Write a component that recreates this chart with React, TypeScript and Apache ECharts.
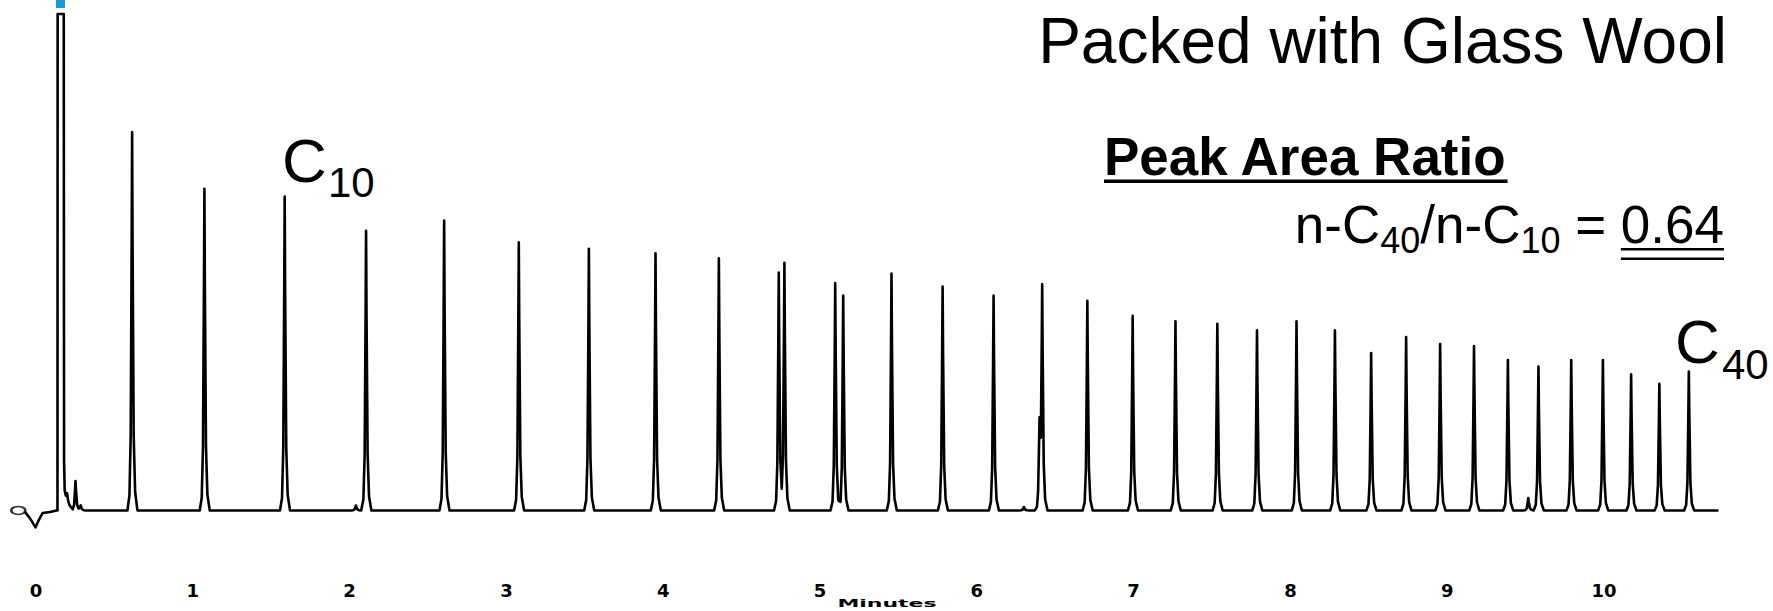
import React, { useEffect, useRef } from "react";
import * as echarts from "echarts";

// x-axis tick labels (minutes)
const tickLabels = ["0", "1", "2", "3", "4", "5", "6", "7", "8", "9", "10"];

// main n-alkane peaks: retention time (min) and height (% of full scale)
const peakTimes = [
  0.613, 1.074, 1.586, 2.105, 2.603, 3.079, 3.526, 3.951, 4.355, 4.737, 4.773,
  5.097, 5.148, 5.456, 5.782, 6.107, 6.4, 6.417, 6.705, 6.994, 7.267, 7.534,
  7.787, 8.039, 8.284, 8.515, 8.738, 8.955, 9.171, 9.387, 9.582, 9.791, 9.993,
  10.173, 10.353, 10.541,
];
const peakHeights = [
  76.2, 64.8, 63.2, 56.3, 58.4, 54.0, 52.7, 51.8, 50.8, 47.9, 49.9, 45.8, 43.3,
  47.7, 45.1, 43.3, 17.0, 44.2, 42.2, 39.2, 38.1, 37.6, 36.3, 38.1, 36.3, 31.7,
  34.9, 33.5, 33.1, 30.3, 29.0, 30.3, 30.3, 27.4, 25.5, 28.0,
];
// small impurity bumps
const minorTimes = [0.252, 0.285, 2.04, 6.3, 9.517];
const minorHeights = [5.9, 1.0, 1.0, 0.7, 2.5];

// start of trace: injection dip and (off-scale) solvent peak
const startTimes = [-0.071, -0.04, -0.003, 0.02, 0.043, 0.09, 0.13, 0.137, 0.138, 0.177, 0.179, 0.183, 0.19, 0.198, 0.205, 0.212, 0.22, 0.23];
const startValues = [-0.3, -1.5, -3.4, -1.8, -0.5, -0.3, 0, 0, 100, 100, 10, 4, 3, 3.5, 2, 1.2, 0.8, 0.4];
const traceEnd = 10.73;
const markerPoint = [-0.113, 0];

// peak outline (relative time offset, fraction of height) — drawing style only
const peakShape: [number, number][] = [
  [-0.03, 0], [-0.017, 0.04], [-0.009, 0.2], [-0.003, 0.7], [0, 1],
  [0.003, 0.7], [0.01, 0.2], [0.019, 0.05], [0.034, 0],
];

function shapeAt(dt: number): number {
  if (dt <= peakShape[0][0] || dt >= peakShape[peakShape.length - 1][0]) return 0;
  for (let i = 0; i < peakShape.length - 1; i++) {
    const [x0, y0] = peakShape[i];
    const [x1, y1] = peakShape[i + 1];
    if (dt >= x0 && dt <= x1) return y0 + ((dt - x0) / (x1 - x0)) * (y1 - y0);
  }
  return 0;
}

function buildTrace(): number[][] {
  const times = peakTimes.concat(minorTimes);
  const heights = peakHeights.concat(minorHeights);
  const startEnd = startTimes[startTimes.length - 1];
  const knotSet = new Set<number>();
  times.forEach((t) => peakShape.forEach(([dt]) => knotSet.add(+(t + dt).toFixed(4))));
  const knots = Array.from(knotSet).filter((x) => x > startEnd && x < traceEnd).sort((a, b) => a - b);
  const pts: number[][] = startTimes.map((t, i) => [t, startValues[i]]);
  knots.forEach((x) => {
    let v = 0;
    times.forEach((t, i) => (v += heights[i] * shapeAt(x - t)));
    pts.push([x, +v.toFixed(3)]);
  });
  pts.push([traceEnd, 0]);
  return pts;
}

const SANS = '"Liberation Sans", Arial, Helvetica, sans-serif';

function measure(text: string, font: string): number {
  const c = document.createElement("canvas").getContext("2d")!;
  c.font = font;
  return c.measureText(text).width;
}

export default function App() {
  const ref = useRef<HTMLDivElement>(null);
  useEffect(() => {
    if (!ref.current) return;
    const chart = echarts.init(ref.current, null, { renderer: "svg" });

    // formula layout: n-C40/n-C10 = 0.64 (right aligned)
    const mainSize = 53;
    const subSize = 36;
    const mainFont = `${mainSize}px ${SANS}`;
    const subFont = `${subSize}px ${SANS}`;
    const tokens = [
      { t: "n-C", sub: false },
      { t: "40", sub: true },
      { t: "/n-C", sub: false },
      { t: "10", sub: true },
      { t: " = ", sub: false },
      { t: "0.64", sub: false },
    ];
    const widths = tokens.map((k) => measure(k.t, k.sub ? subFont : mainFont));
    const total = widths.reduce((a, b) => a + b, 0);
    let cx = 1724 - total;
    const mainY = 224;
    const subY = 240;
    const formulaEls: any[] = [];
    let ulStart = 0;
    let ulEnd = 0;
    tokens.forEach((k, i) => {
      formulaEls.push({
        type: "text",
        x: cx,
        y: k.sub ? subY : mainY,
        style: {
          text: k.t,
          fill: "#000",
          fontSize: k.sub ? subSize : mainSize,
          fontFamily: SANS,
          textAlign: "left",
          textVerticalAlign: "middle",
        },
      });
      if (k.t === "0.64") {
        ulStart = cx;
        ulEnd = cx + widths[i];
      }
      cx += widths[i];
    });

    const parFont = `bold 53px ${SANS}`;
    const parW = measure("Peak Area Ratio", parFont);

    chart.setOption({
      animation: false,
      backgroundColor: "#fff",
      grid: { left: 4.64, right: 12.2, top: 4, bottom: 36, containLabel: false },
      xAxis: {
        type: "value",
        min: -0.2,
        max: 11,
        interval: 0.1,
        axisLine: { show: false },
        axisTick: { show: false },
        splitLine: { show: false },
        axisLabel: {
          margin: 6,
          color: "#000",
          fontSize: 18,
          fontWeight: "bold",
          fontFamily: '"DejaVu Sans", sans-serif',
          showMinLabel: false,
          showMaxLabel: false,
          formatter: (v: number) => {
            const r = Math.round(v);
            return Math.abs(v - r) < 1e-6 && r >= 0 && r <= 10 ? tickLabels[r] : "";
          },
        },
      },
      yAxis: {
        type: "value",
        min: -13,
        max: 102,
        show: false,
        splitLine: { show: false },
      },
      series: [
        {
          type: "line",
          data: buildTrace(),
          symbol: "none",
          lineStyle: { color: "#000", width: 2.6, join: "round" },
          z: 2,
        },
        {
          type: "scatter",
          data: [markerPoint],
          symbol: "emptyCircle",
          symbolSize: [14, 8],
          itemStyle: { color: "#000", borderColor: "#000", borderWidth: 2.2 },
          z: 3,
        },
      ],
      graphic: [
        { type: "rect", shape: { x: 56, y: 0, width: 9, height: 8 }, style: { fill: "#1a9bd7" } },
        {
          type: "text",
          x: 1727,
          y: 41,
          style: { text: "Packed with Glass Wool", fill: "#000", fontSize: 64, fontFamily: SANS, textAlign: "right", textVerticalAlign: "middle" },
        },
        {
          type: "text",
          x: 1104,
          y: 156,
          style: { text: "Peak Area Ratio", fill: "#000", fontSize: 53, fontWeight: "bold", fontFamily: SANS, textAlign: "left", textVerticalAlign: "middle" },
        },
        { type: "rect", shape: { x: 1104, y: 179.5, width: parW, height: 3.5 }, style: { fill: "#000" } },
        ...formulaEls,
        { type: "rect", shape: { x: ulStart, y: 248, width: ulEnd - ulStart, height: 2.5 }, style: { fill: "#000" } },
        { type: "rect", shape: { x: ulStart, y: 257.5, width: ulEnd - ulStart, height: 2.5 }, style: { fill: "#000" } },
        {
          type: "text",
          x: 282,
          y: 160,
          style: { text: "C", fill: "#000", fontSize: 62, fontFamily: SANS, textAlign: "left", textVerticalAlign: "middle" },
        },
        {
          type: "text",
          x: 328,
          y: 182,
          style: { text: "10", fill: "#000", fontSize: 42, fontFamily: SANS, textAlign: "left", textVerticalAlign: "middle" },
        },
        {
          type: "text",
          x: 1675,
          y: 341,
          style: { text: "C", fill: "#000", fontSize: 62, fontFamily: SANS, textAlign: "left", textVerticalAlign: "middle" },
        },
        {
          type: "text",
          x: 1722,
          y: 364,
          style: { text: "40", fill: "#000", fontSize: 42, fontFamily: SANS, textAlign: "left", textVerticalAlign: "middle" },
        },
        {
          type: "text",
          x: 887,
          y: 603,
          scaleX: 2.0,
          style: { text: "Minutes", fill: "#000", fontSize: 11, fontWeight: "bold", fontFamily: '"DejaVu Sans", sans-serif', textAlign: "center", textVerticalAlign: "middle" },
        },
      ],
    });
    return () => chart.dispose();
  }, []);
  return (
    <div
      ref={ref}
      style={{ position: "fixed", left: 0, top: 0, width: 1773, height: 611, background: "#fff" }}
    />
  );
}
